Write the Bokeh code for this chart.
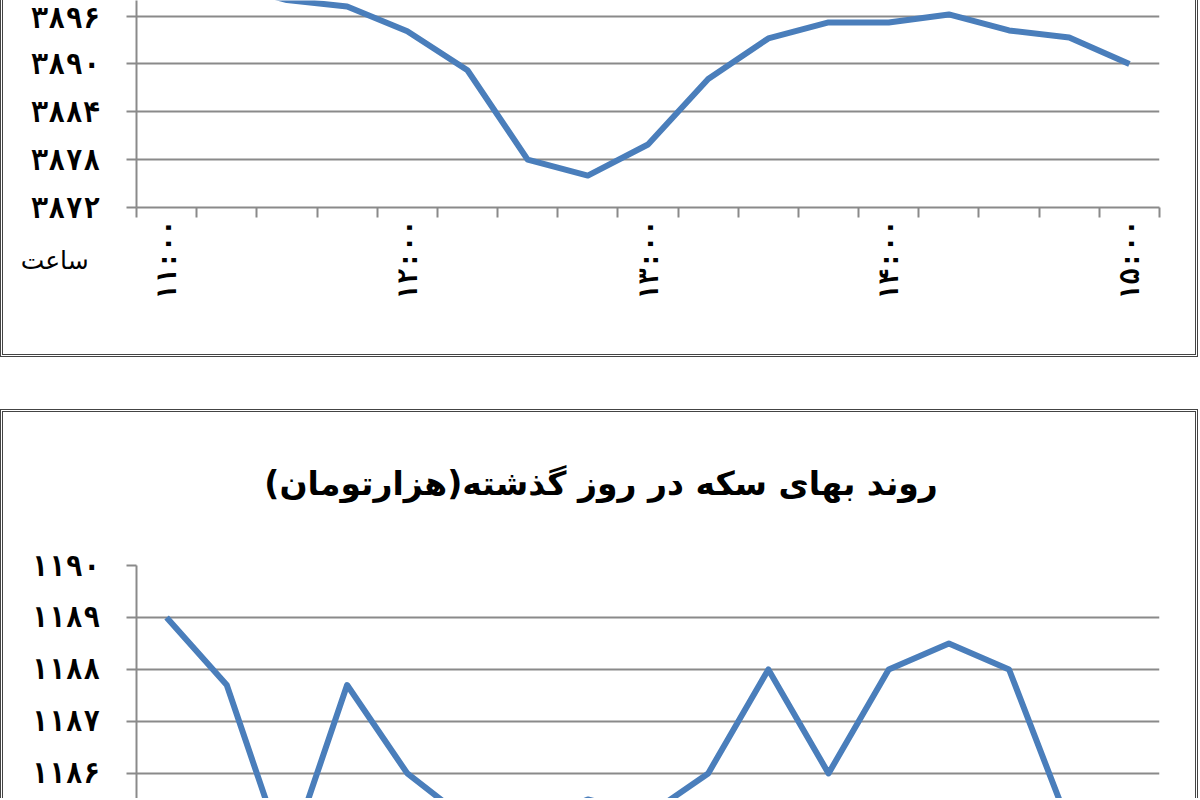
import math
from bokeh.plotting import figure
from bokeh.layouts import column
from bokeh.models import FixedTicker, Range1d, Label
from bokeh.embed import file_html
from bokeh.resources import INLINE

# ---- data -------------------------------------------------------------
times = ["۱۱:۰۰", "۱۱:۱۵", "۱۱:۳۰", "۱۱:۴۵", "۱۲:۰۰", "۱۲:۱۵", "۱۲:۳۰", "۱۲:۴۵",
         "۱۳:۰۰", "۱۳:۱۵", "۱۳:۳۰", "۱۳:۴۵", "۱۴:۰۰", "۱۴:۱۵", "۱۴:۳۰", "۱۴:۴۵", "۱۵:۰۰"]
labelled_times = ["۱۱:۰۰", "۱۲:۰۰", "۱۳:۰۰", "۱۴:۰۰", "۱۵:۰۰"]
x_axis_title = "ساعت"

top_values = [3901, 3900, 3898, 3897.2, 3894.1, 3889.2, 3878, 3876, 3879.9,
              3888.1, 3893.2, 3895.2, 3895.2, 3896.2, 3894.2, 3893.3, 3890]
top_ticks = [3872, 3878, 3884, 3890, 3896, 3902]
top_tick_labels = ["۳۸۷۲", "۳۸۷۸", "۳۸۸۴", "۳۸۹۰", "۳۸۹۶", "۳۹۰۲"]

coin_title = "روند بهای سکه در روز گذشته(هزارتومان)"
coin_values = [1189, 1187.7, 1184.3, 1187.7, 1186, 1185.1, 1185, 1185.5, 1185.2,
               1186, 1188, 1186, 1188, 1188.5, 1188, 1185, 1184.9]
coin_ticks = [1184, 1185, 1186, 1187, 1188, 1189, 1190]
coin_tick_labels = ["۱۱۸۴", "۱۱۸۵", "۱۱۸۶", "۱۱۸۷", "۱۱۸۸", "۱۱۸۹", "۱۱۹۰"]

# ---- styling ----------------------------------------------------------
FONT = "DejaVu Sans"
LABEL_FONT = "DejaVu Sans Mono"
GRAY = "#8a8a8a"
BLUE = "#4a7ebb"
W = 1192
FRAME_LEFT = 133
FRAME_RIGHT = 42
x = list(range(len(times)))


def style_common(p, ticks, tick_labels):
    p.background_fill_color = "white"
    p.border_fill_color = "white"
    p.outline_line_color = None
    p.xgrid.visible = False
    p.ygrid.grid_line_color = GRAY
    p.ygrid.grid_line_width = 2
    ya = p.yaxis[0]
    ya.ticker = FixedTicker(ticks=ticks, minor_ticks=[])
    ya.major_label_overrides = dict(zip(ticks, tick_labels))
    ya.axis_line_color = GRAY
    ya.axis_line_width = 2
    ya.major_tick_line_color = GRAY
    ya.major_tick_line_width = 2
    ya.major_tick_out = 10
    ya.major_tick_in = 0
    ya.minor_tick_line_color = None
    ya.major_label_standoff = 26
    ya.major_label_text_font = LABEL_FONT
    ya.major_label_text_font_style = "bold"
    ya.major_label_text_font_size = "29px"
    ya.major_label_text_color = "black"


BORDER = "3px double #444"

# ---- top chart --------------------------------------------------------
p1 = figure(width=W, height=354, output_backend="svg", toolbar_location=None,
            x_range=Range1d(-0.5, len(times) - 0.5), y_range=Range1d(3872, 3897.95),
            min_border_left=FRAME_LEFT, min_border_right=FRAME_RIGHT, min_border_top=0,
            min_border_bottom=150,
            styles={"border-left": BORDER, "border-right": BORDER,
                    "border-bottom": BORDER, "box-sizing": "content-box"})
style_common(p1, top_ticks, top_tick_labels)
p1.line(x, top_values, line_color=BLUE, line_width=6, line_join="round")

xa = p1.xaxis[0]
label_pos = [times.index(t) for t in labelled_times]
xa.ticker = FixedTicker(ticks=label_pos, minor_ticks=[i - 0.5 for i in range(len(times) + 1)])
xa.major_label_overrides = {i: times[i] for i in label_pos}
xa.axis_line_color = GRAY
xa.axis_line_width = 2
xa.major_tick_line_color = None
xa.major_tick_out = 0
xa.major_tick_in = 0
xa.minor_tick_line_color = GRAY
xa.minor_tick_line_width = 2
xa.minor_tick_out = 10
xa.minor_tick_in = 0
xa.major_label_orientation = math.pi / 2
xa.major_label_standoff = 2
xa.major_label_text_font = LABEL_FONT
xa.major_label_text_font_style = "bold"
xa.major_label_text_font_size = "27px"
xa.major_label_text_color = "black"

p1.add_layout(Label(x=-1.86, y=3865.4, text=x_axis_title, text_font=FONT,
                    text_font_size="25px", text_align="center",
                    text_baseline="middle", text_color="black"), "below")

# ---- bottom chart -----------------------------------------------------
p2 = figure(width=W, height=386, output_backend="svg", toolbar_location=None,
            x_range=Range1d(-0.5, len(times) - 0.5), y_range=Range1d(1185.46, 1190),
            min_border_left=FRAME_LEFT, min_border_right=FRAME_RIGHT, min_border_top=153,
            min_border_bottom=0,
            styles={"border-left": BORDER, "border-right": BORDER,
                    "border-top": BORDER, "box-sizing": "content-box"})
style_common(p2, coin_ticks, coin_tick_labels)
p2.xaxis.visible = False
p2.add_layout(Label(x=7.22, y=1191.57, text=coin_title, text_font=FONT,
                    text_font_style="bold", text_font_size="33px",
                    text_align="center", text_baseline="middle",
                    text_color="black"), "above")
p2.line(x, coin_values, line_color=BLUE, line_width=6, line_join="round")

layout = column(p1, p2, spacing=52)

open("out.html", "w").write(file_html(layout, INLINE))
